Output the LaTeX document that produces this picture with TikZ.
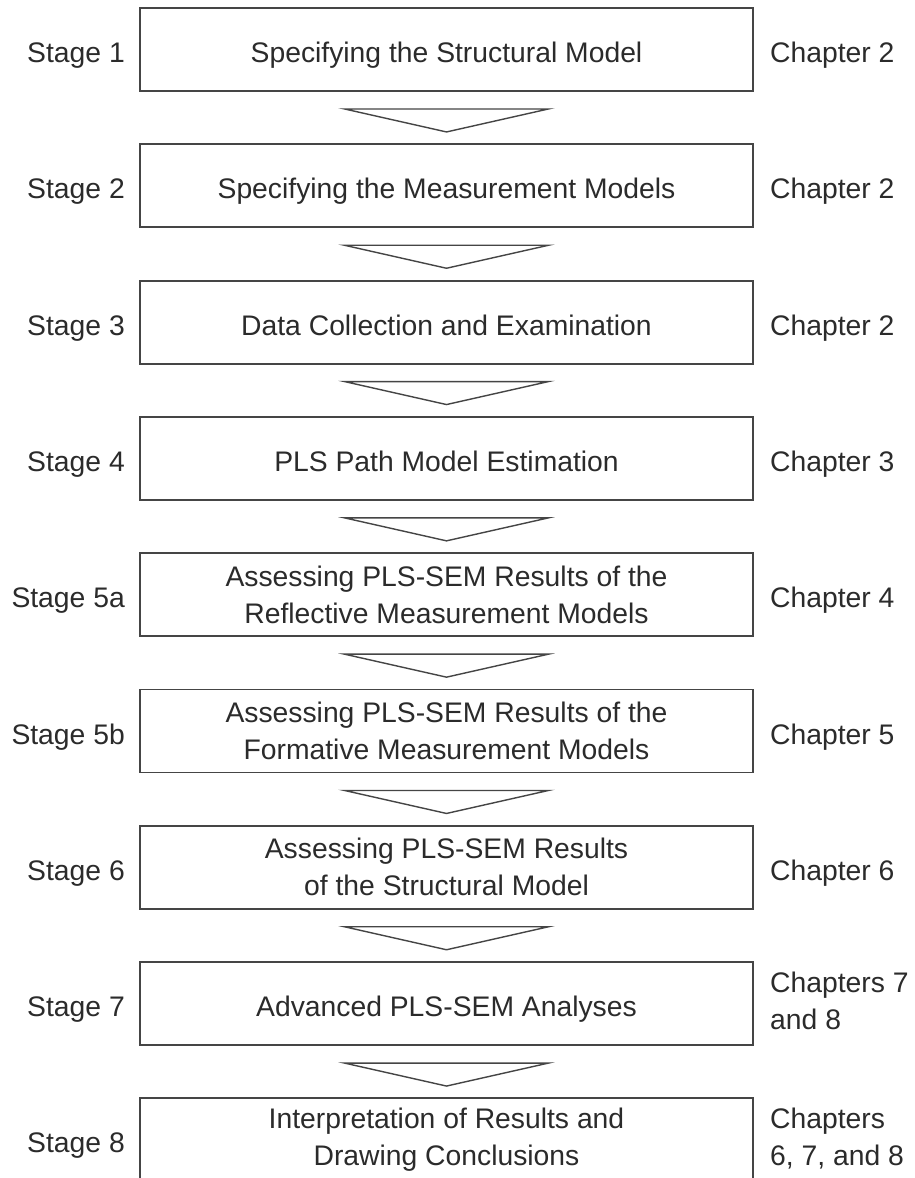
\documentclass[tikz,border=0pt]{standalone}
\usepackage{fontspec}
\setmainfont{Liberation Sans}
\usetikzlibrary{calc}
\definecolor{txt}{HTML}{2B2B2B}
\definecolor{ln}{HTML}{454545}
\begin{document}
\begin{tikzpicture}[x=1pt,y=-1pt,
  lblfont/.style={font=\fontsize{28.3}{37}\selectfont},
  oneline/.style={text height=26pt, text depth=0pt},
  stagebox/.style={draw=ln, line width=1.9pt, minimum width=613pt, minimum height=83pt,
    inner sep=0pt, align=center, text=txt, lblfont},
  stagelbl/.style={anchor=east, text=txt, inner sep=0pt, lblfont, oneline},
  chaplbl/.style={anchor=west, text=txt, inner sep=0pt, align=left, lblfont},
  flowtri/.style={draw=ln, line width=1.4pt, line join=miter}]
\useasboundingbox (0,0) rectangle (915,1178);
\clip (0,0) rectangle (915,1178);
\fill[white] (0,0) rectangle (915,1178);

\node[stagebox, oneline] (b1) at (446.5,49.5) {Specifying the Structural Model};
\node[stagebox, oneline] (b2) at (446.5,185.8) {Specifying the Measurement Models};
\node[stagebox, oneline] (b3) at (446.5,322.1) {Data Collection and Examination};
\node[stagebox, oneline] (b4) at (446.5,458.4) {PLS Path Model Estimation};
\node[stagebox] (b5a) at (446.5,594.7) {Assessing PLS-SEM Results of the\\Reflective Measurement Models};
\node[stagebox] (b5b) at (446.5,731) {Assessing PLS-SEM Results of the\\Formative Measurement Models};
\node[stagebox] (b6) at (446.5,867.3) {Assessing PLS-SEM Results\\of the Structural Model};
\node[stagebox, oneline] (b7) at (446.5,1003.6) {Advanced PLS-SEM Analyses};
\node[stagebox] (b8) at (446.5,1139.9) {Interpretation of Results and\\Drawing Conclusions};

\node[stagelbl] (s1) at (125,49.5) {Stage 1};
\node[stagelbl] (s2) at (125,185.8) {Stage 2};
\node[stagelbl] (s3) at (125,322.1) {Stage 3};
\node[stagelbl] (s4) at (125,458.4) {Stage 4};
\node[stagelbl] (s5a) at (125,594.7) {Stage 5a};
\node[stagelbl] (s5b) at (125,731) {Stage 5b};
\node[stagelbl] (s6) at (125,867.3) {Stage 6};
\node[stagelbl] (s7) at (125,1003.6) {Stage 7};
\node[stagelbl] (s8) at (125,1139.9) {Stage 8};

\node[chaplbl, oneline] (c1) at (770,49.5) {Chapter 2};
\node[chaplbl, oneline] (c2) at (770,185.8) {Chapter 2};
\node[chaplbl, oneline] (c3) at (770,322.1) {Chapter 2};
\node[chaplbl, oneline] (c4) at (770,458.4) {Chapter 3};
\node[chaplbl, oneline] (c5a) at (770,594.7) {Chapter 4};
\node[chaplbl, oneline] (c5b) at (770,731) {Chapter 5};
\node[chaplbl, oneline] (c6) at (770,867.3) {Chapter 6};
\node[chaplbl] (c7) at (770,1001) {Chapters 7\\and 8};
\node[chaplbl] (c8) at (770,1139) {Chapters\\6, 7, and 8};

\foreach \a/\b in {b1/b2,b2/b3,b3/b4,b4/b5a,b5a/b5b,b5b/b6,b6/b7,b7/b8}{
  \draw[flowtri] ($(\a.south)+(-102,17)$) -- ($(\a.south)+(102,17)$)
     -- ($(\a.south)+(0,40)$) -- cycle;
}
\end{tikzpicture}
\end{document}
